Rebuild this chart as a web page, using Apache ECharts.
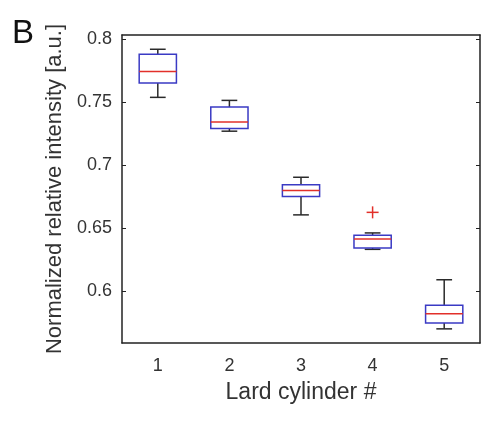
<!DOCTYPE html>
<html>
<head>
<meta charset="utf-8">
<script src="https://cdn.jsdelivr.net/npm/echarts@6/dist/echarts.min.js"></script>
<style>
  html, body { margin: 0; padding: 0; background: #fff; }
  #chart { width: 491px; height: 424px; }
</style>
</head>
<body>
<div id="chart"></div>
<script>
// box plot values
var categories = ['1', '2', '3', '4', '5'];
var whiskerLow  = [0.7536, 0.7268, 0.6605, 0.6332, 0.5702];
var q1          = [0.7650, 0.7290, 0.6750, 0.6343, 0.5748];
var median      = [0.7740, 0.7340, 0.6798, 0.6414, 0.5822];
var q3          = [0.7877, 0.7459, 0.6843, 0.6443, 0.5890];
var whiskerHigh = [0.7917, 0.7512, 0.6903, 0.6462, 0.6091];
// [category index, value]
var outliers = [[3, 0.6625]];
var yTicks = [0.6, 0.65, 0.7, 0.75, 0.8];

var boxData = categories.map(function (c, i) {
    return [i, whiskerLow[i], q1[i], median[i], q3[i], whiskerHigh[i]];
});

var axisColor = '#222';
var textColor = '#333';
var fontFamily = 'Liberation Sans, Arial, sans-serif';

function renderBox(params, api) {
    var x = api.value(0);
    var lo = api.coord([x, api.value(1)]);
    var b1 = api.coord([x, api.value(2)]);
    var md = api.coord([x, api.value(3)]);
    var b3 = api.coord([x, api.value(4)]);
    var hi = api.coord([x, api.value(5)]);
    var cw = api.size([1, 0])[0];
    var bw = cw * 0.52;
    var capw = cw * 0.22;
    var cx = md[0];
    var wStyle = { stroke: '#2a2a2a', lineWidth: 1.5 };
    return {
        type: 'group',
        children: [
            { type: 'line', shape: { x1: cx, y1: b3[1], x2: cx, y2: hi[1] }, style: wStyle },
            { type: 'line', shape: { x1: cx, y1: b1[1], x2: cx, y2: lo[1] }, style: wStyle },
            { type: 'line', shape: { x1: cx - capw / 2, y1: hi[1], x2: cx + capw / 2, y2: hi[1] }, style: wStyle },
            { type: 'line', shape: { x1: cx - capw / 2, y1: lo[1], x2: cx + capw / 2, y2: lo[1] }, style: wStyle },
            { type: 'rect', shape: { x: cx - bw / 2, y: b3[1], width: bw, height: b1[1] - b3[1] },
              style: { fill: 'none', stroke: '#3a3ac4', lineWidth: 1.5 } },
            { type: 'line', shape: { x1: cx - bw / 2, y1: md[1], x2: cx + bw / 2, y2: md[1] },
              style: { stroke: '#e2302a', lineWidth: 1.5 } }
        ]
    };
}

function renderOutlier(params, api) {
    var p = api.coord([api.value(0), api.value(1)]);
    var s = 6;
    var st = { stroke: '#e2302a', lineWidth: 1.5 };
    return {
        type: 'group',
        children: [
            { type: 'line', shape: { x1: p[0] - s, y1: p[1], x2: p[0] + s, y2: p[1] }, style: st },
            { type: 'line', shape: { x1: p[0], y1: p[1] - s, x2: p[0], y2: p[1] + s }, style: st }
        ]
    };
}

var myChart = echarts.init(document.getElementById('chart'), null, { renderer: 'canvas' });

var option = {
    animation: false,
    backgroundColor: '#fff',
    title: {
        text: 'B',
        left: 7,
        top: 12,
        textStyle: { fontSize: 33, fontWeight: 'normal', color: '#111', fontFamily: fontFamily }
    },
    grid: { left: 122, top: 35, right: 11, bottom: 81 },
    xAxis: [{
        type: 'category',
        data: categories,
        boundaryGap: true,
        name: 'Lard cylinder #',
        nameLocation: 'middle',
        nameGap: 38,
        nameTextStyle: { fontSize: 23, color: textColor, fontFamily: fontFamily },
        axisLine: { lineStyle: { color: axisColor, width: 1.5 } },
        axisTick: { alignWithLabel: true, inside: true, length: 4, lineStyle: { color: axisColor } },
        axisLabel: { fontSize: 18, color: textColor, margin: 14, fontFamily: fontFamily },
        splitLine: { show: false }
    }, {
        type: 'category',
        data: categories,
        position: 'top',
        boundaryGap: true,
        axisLine: { lineStyle: { color: axisColor, width: 1.5 } },
        axisTick: { alignWithLabel: true, inside: true, length: 4, lineStyle: { color: axisColor } },
        axisLabel: { show: false },
        splitLine: { show: false }
    }],
    yAxis: [{
        type: 'value',
        min: 0.559,
        max: 0.803,
        name: 'Normalized relative intensity [a.u.]',
        nameLocation: 'middle',
        nameGap: 56,
        nameTextStyle: { fontSize: 22, color: textColor, fontFamily: fontFamily },
        axisLine: { show: true, lineStyle: { color: axisColor, width: 1.5 } },
        axisTick: { show: true, inside: true, length: 4, customValues: yTicks, lineStyle: { color: axisColor } },
        axisLabel: {
            fontSize: 18, color: textColor, margin: 10, fontFamily: fontFamily,
            customValues: yTicks,
            formatter: function (v) { return String(+v.toFixed(2)); }
        },
        splitLine: { show: false }
    }, {
        type: 'value',
        min: 0.559,
        max: 0.803,
        position: 'right',
        axisLine: { show: true, lineStyle: { color: axisColor, width: 1.5 } },
        axisTick: { show: true, inside: true, length: 4, customValues: yTicks, lineStyle: { color: axisColor } },
        axisLabel: { show: false },
        splitLine: { show: false }
    }],
    series: [{
        type: 'custom',
        renderItem: renderBox,
        data: boxData,
        encode: { x: 0, y: [1, 2, 3, 4, 5] },
        clip: true
    }, {
        type: 'custom',
        renderItem: renderOutlier,
        data: outliers,
        encode: { x: 0, y: 1 }
    }]
};

myChart.setOption(option);
</script>
</body>
</html>
